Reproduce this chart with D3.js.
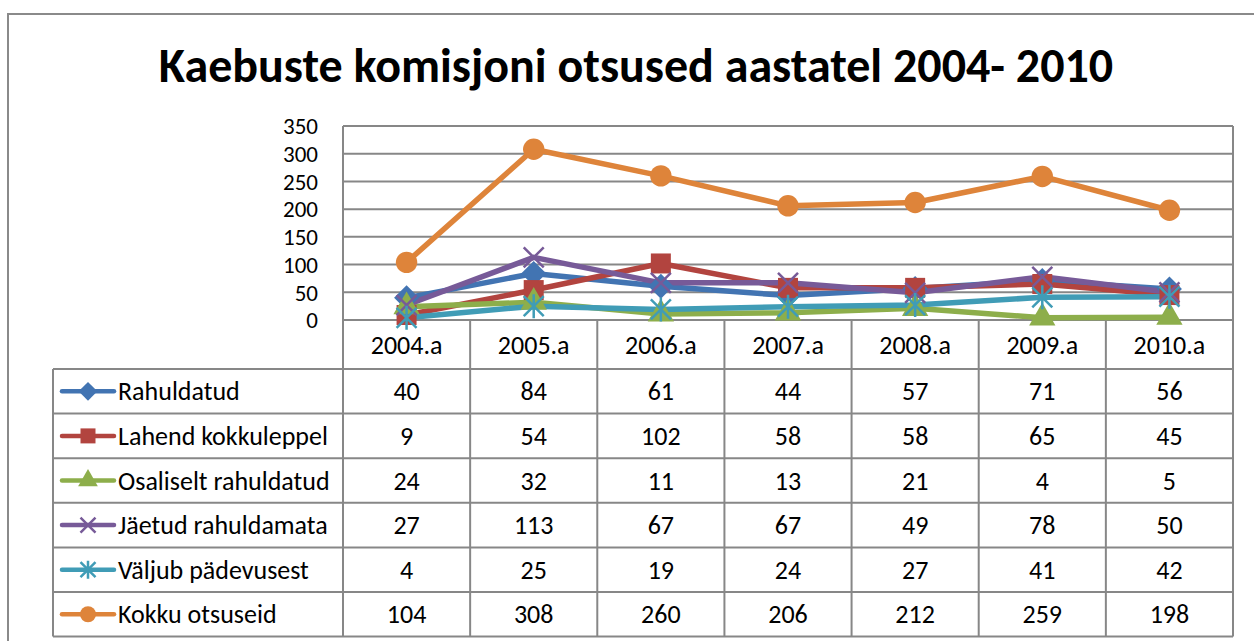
<!DOCTYPE html>
<html>
<head>
<meta charset="utf-8">
<script src="https://cdn.jsdelivr.net/npm/d3@7"></script>
<style>
  body { margin: 0; background: #fff; }
  svg text { font-family: Carlito, Lato, "Open Sans", sans-serif; fill: #000; }
</style>
</head>
<body>
<svg id="chart" width="1254" height="641"></svg>
<script>
const years = ['2004.a', '2005.a', '2006.a', '2007.a', '2008.a', '2009.a', '2010.a'];
const seriesNames = ['Rahuldatud', 'Lahend kokkuleppel', 'Osaliselt rahuldatud', 'Jäetud rahuldamata', 'Väljub pädevusest', 'Kokku otsuseid'];
const rahuldatud = [40, 84, 61, 44, 57, 71, 56];
const lahend = [9, 54, 102, 58, 58, 65, 45];
const osaliselt = [24, 32, 11, 13, 21, 4, 5];
const jaetud = [27, 113, 67, 67, 49, 78, 50];
const valjub = [4, 25, 19, 24, 27, 41, 42];
const kokku = [104, 308, 260, 206, 212, 259, 198];
const yTicks = [0, 50, 100, 150, 200, 250, 300, 350];

const colors = ['#4274B2', '#B2443F', '#8DAE4B', '#775A98', '#409CB6', '#DE843A'];
const markers = ['diamond', 'square', 'triangle', 'cross', 'star', 'circle'];
const allValues = [rahuldatud, lahend, osaliselt, jaetud, valjub, kokku];

const series = seriesNames.map((name, i) => ({ name, values: allValues[i], color: colors[i], marker: markers[i] }));

const svg = d3.select('#chart');
const gridColor = '#878787';
const fs = '26px';

// outer frame
svg.append('rect').attr('x', 8).attr('y', 14).attr('width', 1260).attr('height', 640)
  .attr('fill', 'none').attr('stroke', '#8a8a8a').attr('stroke-width', 2);

svg.append('text').attr('x', 636).attr('y', 82).attr('text-anchor', 'middle')
  .style('font-size', '48px').style('font-weight', 'bold')
  .text('Kaebuste komisjoni otsused aastatel 2004- 2010');

const plotLeft = 343, plotRight = 1233, plotTop = 126, zeroY = 320;
const x = d3.scaleBand().domain(years).range([plotLeft, plotRight]);
const y = d3.scaleLinear().domain([0, 350]).range([zeroY, plotTop]);

// gridlines
svg.append('g').selectAll('line').data(yTicks).join('line')
  .attr('x1', plotLeft).attr('x2', plotRight)
  .attr('y1', d => y(d)).attr('y2', d => y(d))
  .attr('stroke', gridColor).attr('stroke-width', 2);

// y axis labels (a bit smaller so they don't collide)
const yAxis = svg.append('g').attr('transform', `translate(${plotLeft},0)`)
  .call(d3.axisLeft(y).tickValues(yTicks).tickSize(0).tickPadding(25));
yAxis.select('.domain').remove();
yAxis.selectAll('text').style('font-size', '23px').style('font-family', 'Carlito, Lato, "Open Sans", sans-serif')
  .attr('fill', '#000').attr('dy', '0.34em');

// data table
const rowTop = 369, rowH = 44.6, legLeft = 53;
const tableBottom = rowTop + rowH * series.length;
const tg = svg.append('g');
tg.append('line').attr('x1', plotLeft).attr('x2', plotLeft).attr('y1', plotTop).attr('y2', tableBottom);
years.forEach(d => {
  const xe = x(d) + x.bandwidth();
  tg.append('line').attr('x1', xe).attr('x2', xe)
    .attr('y1', d === years[years.length - 1] ? plotTop : zeroY).attr('y2', tableBottom);
});
tg.append('line').attr('x1', legLeft).attr('x2', legLeft).attr('y1', rowTop).attr('y2', tableBottom);
d3.range(series.length + 1).forEach(i => {
  tg.append('line').attr('x1', legLeft).attr('x2', plotRight)
    .attr('y1', rowTop + i * rowH).attr('y2', rowTop + i * rowH);
});
tg.selectAll('line').attr('stroke', gridColor).attr('stroke-width', 2);

// category labels
svg.append('g').selectAll('text').data(years).join('text')
  .attr('x', d => x(d) + x.bandwidth() / 2).attr('y', 354)
  .attr('text-anchor', 'middle').style('font-size', fs).text(d => d);

function markerPath(type, s) {
  if (type === 'diamond') return d3.symbol(d3.symbolDiamond2, s * s * 1.0)();
  if (type === 'square') return d3.symbol(d3.symbolSquare, s * s)();
  if (type === 'triangle') return d3.symbol(d3.symbolTriangle, s * s * 0.75)();
  if (type === 'circle') return d3.symbol(d3.symbolCircle, s * s * 0.9)();
  const h = s / 2;
  if (type === 'cross') return `M${-h},${-h}L${h},${h}M${-h},${h}L${h},${-h}`;
  return `M${-h},${-h}L${h},${h}M${-h},${h}L${h},${-h}M0,${-h * 1.2}L0,${h * 1.2}`;
}
function drawMarker(g, type, color, cx, cy, s) {
  const p = g.append('path').attr('d', markerPath(type, s))
    .attr('transform', `translate(${cx},${cy})`);
  if (type === 'cross' || type === 'star') p.attr('fill', 'none').attr('stroke', color).attr('stroke-width', 2.5);
  else p.attr('fill', color);
}

// rows: legend + values
series.forEach((s, i) => {
  const ry = rowTop + i * rowH;
  const lg = svg.append('g');
  lg.append('line').attr('x1', 62).attr('x2', 114).attr('y1', ry + rowH / 2).attr('y2', ry + rowH / 2)
    .attr('stroke', s.color).attr('stroke-width', 4.5).attr('stroke-linecap', 'round');
  drawMarker(lg, s.marker, s.color, 88, ry + rowH / 2, 15);
  lg.append('text').attr('x', 118).attr('y', ry + rowH / 2 + 9).style('font-size', fs).text(s.name);
  lg.selectAll('.val').data(s.values).join('text')
    .attr('x', (d, j) => x(years[j]) + x.bandwidth() / 2).attr('y', ry + rowH / 2 + 9)
    .attr('text-anchor', 'middle').style('font-size', fs).text(d => d);
});

// lines, then markers on top
const line = d3.line().x((d, j) => x(years[j]) + x.bandwidth() / 2).y(d => y(d));
series.forEach(s => {
  svg.append('path').datum(s.values).attr('d', line)
    .attr('fill', 'none').attr('stroke', s.color).attr('stroke-width', 5.5).attr('stroke-linejoin', 'round');
});
series.forEach(s => {
  const mg = svg.append('g');
  s.values.forEach((v, j) => drawMarker(mg, s.marker, s.color, x(years[j]) + x.bandwidth() / 2, y(v), 20));
});
</script>
</body>
</html>
